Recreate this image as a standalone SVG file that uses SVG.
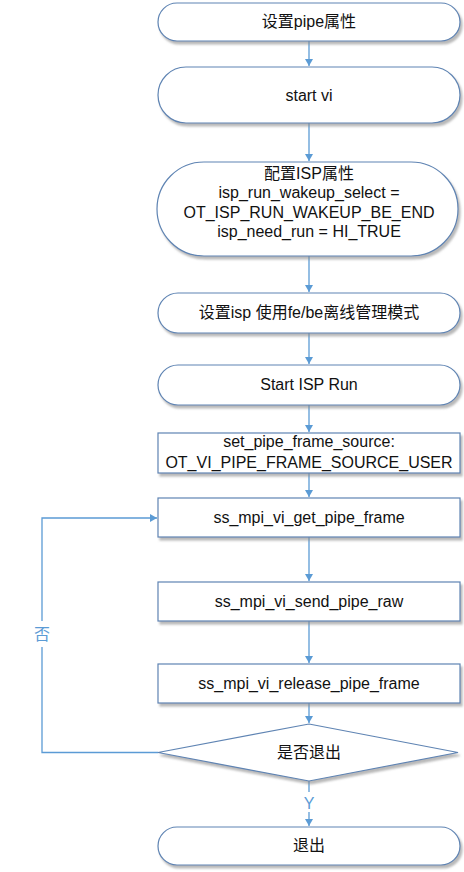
<svg xmlns="http://www.w3.org/2000/svg" width="464" height="872" viewBox="0 0 464 872">
<style>
.n{fill:#fff;stroke:#5f84b3;stroke-width:1.2;filter:url(#sh)}
.t{font-family:"Liberation Sans","Noto Sans CJK SC",sans-serif;font-size:16px;fill:#111;text-anchor:middle}
.c{fill:none;stroke:#5b9bd5;stroke-width:1.3}
.l{font-family:"Liberation Sans","Noto Sans CJK SC",sans-serif;font-size:16px;fill:#5b9bd5;text-anchor:middle}
</style>
<defs>
<filter id="sh" x="-5%" y="-10%" width="115%" height="130%">
<feDropShadow dx="2" dy="3" stdDeviation="1.2" flood-color="#8a8a8a" flood-opacity="0.6"/>
</filter>
<marker id="ar" markerWidth="8" markerHeight="8" refX="7" refY="4" orient="auto" markerUnits="userSpaceOnUse">
<path d="M0,0 L7,4 L0,8 Z" fill="#5b9bd5"/>
</marker>
</defs>
<g id="connectors">
<path class="c" d="M309,41 V66" marker-end="url(#ar)"/>
<path class="c" d="M309,123 V161" marker-end="url(#ar)"/>
<path class="c" d="M309,256 V292" marker-end="url(#ar)"/>
<path class="c" d="M309,333 V364" marker-end="url(#ar)"/>
<path class="c" d="M309,405 V432" marker-end="url(#ar)"/>
<path class="c" d="M309,473 V497" marker-end="url(#ar)"/>
<path class="c" d="M309,537 V581" marker-end="url(#ar)"/>
<path class="c" d="M309,621 V663" marker-end="url(#ar)"/>
<path class="c" d="M309,703 V723" marker-end="url(#ar)"/>
<path class="c" d="M309,781 V792"/>
<path class="c" d="M309,812 V826" marker-end="url(#ar)"/>
<text class="l" x="309" y="809">Y</text>
<path class="c" d="M158,752.5 H42 V647"/>
<path class="c" d="M42,621 V518 H157" marker-end="url(#ar)"/>
<text class="l" x="42" y="640" font-size="15">否</text>
</g>
<g id="n1"><rect class="n" x="158" y="3" width="302" height="38" rx="19"/><text class="t" x="309" y="27">设置pipe属性</text></g>
<g id="n2"><rect class="n" x="158" y="67" width="302" height="56" rx="28"/><text class="t" x="309" y="101">start vi</text></g>
<g id="n3"><rect class="n" x="157" y="162" width="301" height="94" rx="47"/>
<text class="t" x="309" y="179">配置ISP属性</text>
<text class="t" x="309" y="198">isp_run_wakeup_select =</text>
<text class="t" x="309" y="218">OT_ISP_RUN_WAKEUP_BE_END</text>
<text class="t" x="309" y="237">isp_need_run = HI_TRUE</text></g>
<g id="n4"><rect class="n" x="158" y="293" width="302" height="40" rx="20"/><text class="t" x="309" y="318">设置isp 使用fe/be离线管理模式</text></g>
<g id="n5"><rect class="n" x="158" y="365" width="302" height="40" rx="20"/><text class="t" x="309" y="390">Start ISP Run</text></g>
<g id="n6"><rect class="n" x="158" y="433" width="302" height="40"/>
<text class="t" x="309" y="447">set_pipe_frame_source:</text>
<text class="t" x="309" y="468" font-size="15">OT_VI_PIPE_FRAME_SOURCE_USER</text></g>
<g id="n7"><rect class="n" x="158" y="498" width="302" height="39"/><text class="t" x="309" y="523">ss_mpi_vi_get_pipe_frame</text></g>
<g id="n8"><rect class="n" x="158" y="582" width="302" height="39"/><text class="t" x="309" y="607">ss_mpi_vi_send_pipe_raw</text></g>
<g id="n9"><rect class="n" x="158" y="664" width="302" height="39"/><text class="t" x="309" y="689">ss_mpi_vi_release_pipe_frame</text></g>
<g id="n10"><path class="n" d="M309,724 L458,752.5 L309,781 L158,752.5 Z"/><text class="t" x="309" y="758">是否退出</text></g>
<g id="n11"><rect class="n" x="158" y="827" width="302" height="38" rx="19"/><text class="t" x="309" y="851">退出</text></g>
</svg>
